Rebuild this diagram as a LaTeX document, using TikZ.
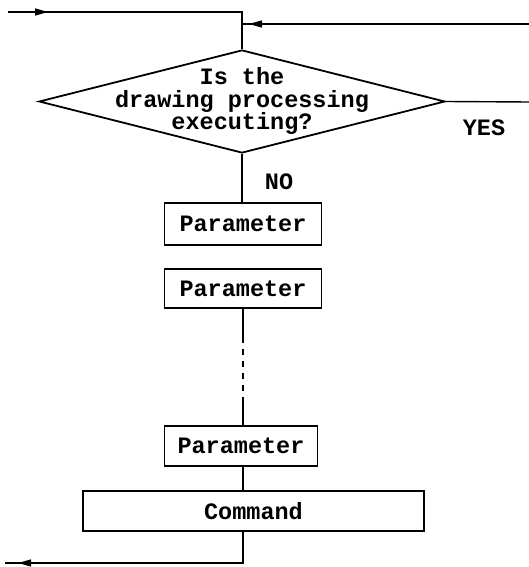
\documentclass[tikz,border=0pt]{standalone}
\usepackage{fontspec}
\setmonofont{Liberation Mono}
\usetikzlibrary{shapes.geometric,arrows.meta,decorations.markings}
\begin{document}
\begin{tikzpicture}[x=1pt,y=-1pt,
  txt/.style={font=\ttfamily\bfseries\fontsize{23.5}{22.5}\selectfont, inner sep=0pt},
  box/.style={txt, draw, line width=1.8pt, minimum height=40pt},
  flow/.style={line width=1.4pt},
  midarrow/.style={postaction={decorate}, decoration={markings,
      mark=at position #1 with {\arrow{Triangle[length=13pt,width=7pt]}}}}
]
\useasboundingbox (0,0) rectangle (529,567);

% decision diamond and its text
\node[diamond, draw, line width=1.8pt, minimum width=406pt, minimum height=103pt,
      inner sep=0pt] (dia) at (242,101.5) {};
\node[txt, align=center] (q) at (242,101) {Is the\\drawing processing\\executing?};
\node[txt] (yes) at (484,128) {YES};
\node[txt] (no) at (279,182) {NO};

% parameter and command boxes
\node[box, minimum width=157pt, minimum height=42pt] (p1) at (243,224) {Parameter};
\node[box, minimum width=157pt, minimum height=39pt] (p2) at (243,288.5) {Parameter};
\node[box, minimum width=153pt] (p3) at (241,446) {Parameter};
\node[box, minimum width=341pt] (cmd) at (253.5,511) {Command};

% free ends of the connectors
\coordinate (inL) at (8,12);
\coordinate (inR) at (529,24);
\coordinate (yesEnd) at (529,102);
\coordinate (out) at (5,563);
\coordinate (dA) at (243,337);
\coordinate (dB) at (243,400);

% entries at the top
\draw[flow, midarrow=40pt] (inL) -- (inL -| dia.north) -- (dia.north);
\draw[flow, midarrow=280pt] (inR) -- (inR -| dia.north);

% YES branch
\draw[flow] (dia.east) -- (yesEnd);

% NO branch
\draw[flow] (dia.south) -- (dia.south |- p1.north);
\draw[flow] (p2.south) -- (dA);
\draw[flow, dash pattern=on 6pt off 6pt] (dA) -- (dB);
\draw[flow] (dB) -- (dB |- p3.north);
\draw[flow] (dB |- p3.south) -- (dB |- cmd.north);
\draw[flow, midarrow=256pt] (dB |- cmd.south) -- (dB |- out) -- (out);
\end{tikzpicture}
\end{document}
